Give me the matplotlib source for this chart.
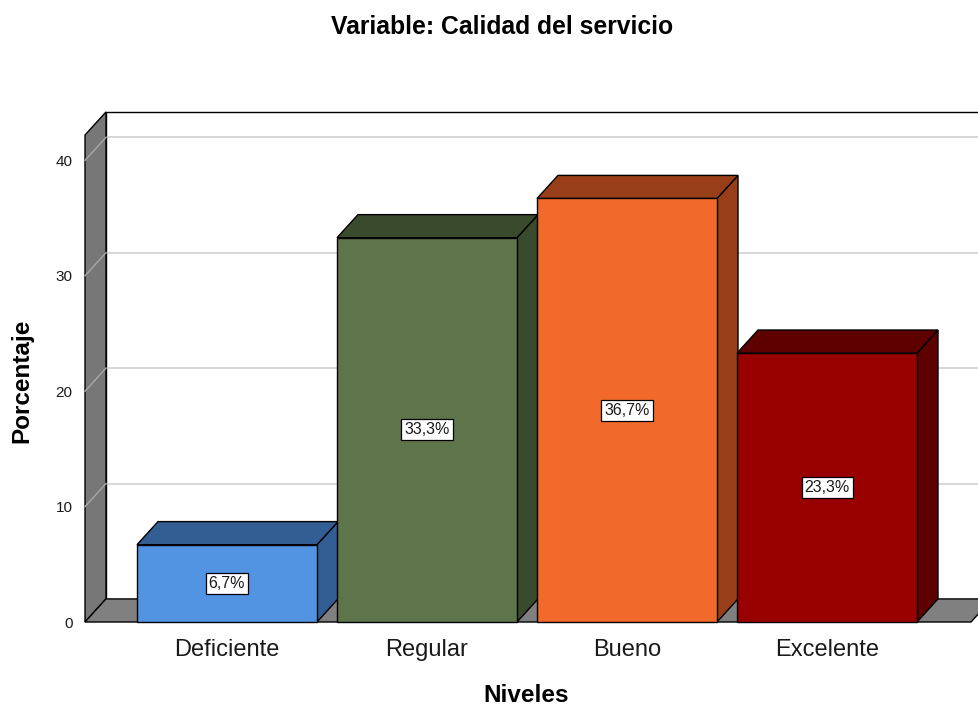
import matplotlib
matplotlib.use('Agg')
import matplotlib.pyplot as plt
from matplotlib.patches import Polygon

plt.rcParams['font.family'] = ['Liberation Sans', 'DejaVu Sans']

categories = ['Deficiente', 'Regular', 'Bueno', 'Excelente']
percentages = [6.7, 33.3, 36.7, 23.3]
labels = ['6,7%', '33,3%', '36,7%', '23,3%']
front_colors = ['#5294E2', '#5E744A', '#F2692C', '#990000']
dark_colors = ['#335E93', '#3A4A2C', '#983F1A', '#5E0000']
yticks = [0, 10, 20, 30, 40]

XMIN, XMAX = -0.71, 3.72
YMAX = 42.2
DX, DY = 0.105, 2.0     # depth offset of the 3d look
BAR_W = 0.9

fig = plt.figure(figsize=(9.79, 7.07), dpi=100)
ax = fig.add_axes([85 / 979, 85 / 707, (971 - 85) / 979, (622 - 135) / 707])
ax.set_xlim(XMIN, XMAX)
ax.set_ylim(0, YMAX)
for s in ax.spines.values():
    s.set_visible(False)

def poly(pts, fc, ec='black', lw=1.0, z=1):
    p = Polygon(pts, closed=True, facecolor=fc, edgecolor=ec, linewidth=lw,
                zorder=z, clip_on=False, joinstyle='miter')
    ax.add_patch(p)

# back wall
poly([(XMIN + DX, DY), (XMIN + DX, YMAX + DY), (XMAX + DX + 0.2, YMAX + DY),
      (XMAX + DX + 0.2, DY)], 'white', ec='none', z=0.5)
ax.plot([XMIN + DX, XMIN + DX, XMAX + DX + 0.2], [DY, YMAX + DY, YMAX + DY],
        color='black', lw=1.0, zorder=0.6, clip_on=False)
# left wall
poly([(XMIN, 0), (XMIN + DX, DY), (XMIN + DX, YMAX + DY), (XMIN, YMAX)], '#777777', z=1)
# gridlines
for v in yticks[1:]:
    ax.plot([XMIN + DX, XMAX + DX + 0.2], [v + DY, v + DY], color='#CFCFCF', lw=1.2,
            zorder=0.7, clip_on=False)
    ax.plot([XMIN, XMIN + DX], [v, v + DY], color='#A8A8A8', lw=1.0, zorder=1.1,
            clip_on=False)
# floor
poly([(XMIN, 0), (XMAX, 0), (XMAX + DX, DY), (XMIN + DX, DY)], '#808080', z=1.2)

# bars
for i, (h, fc, dc, lab) in enumerate(zip(percentages, front_colors, dark_colors, labels)):
    x0, x1 = i - BAR_W / 2, i + BAR_W / 2
    z = 2 + i
    poly([(x1, 0), (x1 + DX, DY), (x1 + DX, h + DY), (x1, h)], dc, z=z)
    poly([(x0, h), (x0 + DX, h + DY), (x1 + DX, h + DY), (x1, h)], dc, z=z)
    poly([(x0, 0), (x0, h), (x1, h), (x1, 0)], fc, z=z + 0.1)
    ax.text(i, h / 2, lab, ha='center', va='center', fontsize=11.5, zorder=z + 0.2,
            color='#1a1a1a',
            bbox=dict(boxstyle='square,pad=0.18', facecolor='white',
                      edgecolor='black', linewidth=0.9))

ax.set_yticks(yticks)
ax.set_yticklabels([str(v) for v in yticks], fontsize=11, color='#1a1a1a')
ax.set_xticks(range(len(categories)))
ax.set_xticklabels(categories, fontsize=17, color='#1a1a1a')
ax.tick_params(axis='y', length=0, pad=9)
ax.tick_params(axis='x', length=0, pad=12.5)

fig.text(502 / 979, 1 - 27 / 707, 'Variable: Calidad del servicio', ha='center',
         va='center', fontsize=17.8, fontweight='bold')
fig.text(526 / 979, 1 - 695 / 707, 'Niveles', ha='center', va='center',
         fontsize=17.5, fontweight='bold')
fig.text(22 / 979, 1 - 381 / 707, 'Porcentaje', ha='center', va='center',
         rotation=90, fontsize=17.5, fontweight='bold')

fig.savefig('out.png', dpi=100, facecolor='white')
